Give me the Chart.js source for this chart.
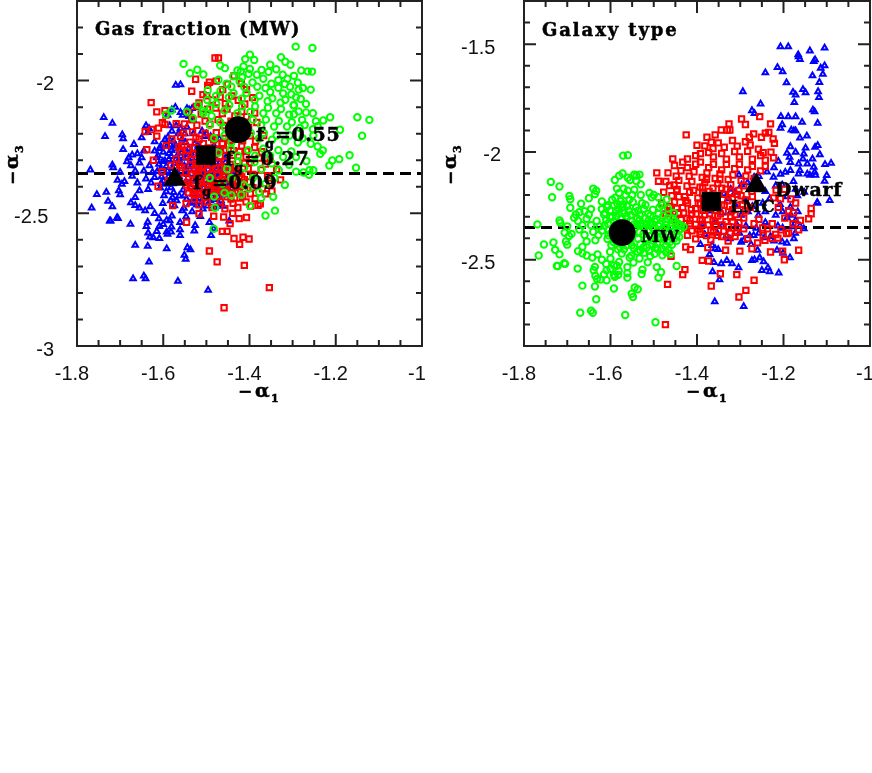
<!DOCTYPE html>
<html>
<head>
<meta charset="utf-8">
<style>
  html, body { margin: 0; background: #fff; }
  canvas { position: absolute; top: 0; }
  #gas { left: 0; }
  #tipo { left: 436px; }
</style>
<script src="https://cdn.jsdelivr.net/npm/chart.js@4"></script>
</head>
<body>
<canvas id="gas" width="436" height="410"></canvas>
<canvas id="tipo" width="436" height="410"></canvas>
<script>
// ====== DADOS ======
// f_g = 0.09 no painel esquerdo e MW no painel direito: mesma nuvem nos dois
const mwLow = [
[-1.571,-2.017],[-1.56,-2.015],[-1.58,-2.11],[-1.59,-2.13],[-1.572,-2.1],[-1.56,-2.12],[-1.545,-2.105],[-1.54,-2.11],[-1.533,-2.105],[-1.53,-2.15],[-1.54,-2.135],[-1.555,-2.13],
[-1.585,-2.17],[-1.57,-2.17],[-1.56,-2.18],[-1.545,-2.175],[-1.58,-2.19],[-1.565,-2.2],[-1.55,-2.2],[-1.53,-2.2],[-1.51,-2.19],[-1.5,-2.2],[-1.505,-2.21],[-1.49,-2.21],[-1.47,-2.22],
[-1.769,-2.336],[-1.738,-2.139],[-1.718,-2.16],[-1.735,-2.21],[-1.766,-2.48],[-1.754,-2.429],[-1.732,-2.42],[-1.728,-2.454],[-1.718,-2.475],[-1.722,-2.529],[-1.705,-2.519],
[-1.695,-2.204],[-1.693,-2.219],[-1.693,-2.259],[-1.718,-2.318],[-1.716,-2.328],[-1.7,-2.345],[-1.696,-2.39],[-1.706,-2.375],[-1.703,-2.415],[-1.7,-2.43],[-1.69,-2.38],
[-1.68,-2.29],[-1.684,-2.305],[-1.672,-2.28],[-1.668,-2.24],[-1.66,-2.275],[-1.655,-2.31],[-1.65,-2.29],[-1.645,-2.265],[-1.65,-2.215],[-1.64,-2.17],[-1.633,-2.18],[-1.636,-2.195],[-1.62,-2.23],
[-1.675,-2.32],[-1.665,-2.34],[-1.672,-2.36],[-1.66,-2.385],[-1.655,-2.415],[-1.665,-2.44],[-1.675,-2.46],[-1.665,-2.47],[-1.655,-2.48],[-1.642,-2.49],[-1.63,-2.475],
[-1.645,-2.34],[-1.632,-2.32],[-1.64,-2.37],[-1.628,-2.385],[-1.635,-2.41],[-1.62,-2.365],[-1.625,-2.345],[-1.615,-2.29],[-1.61,-2.315],[-1.62,-2.265],[-1.608,-2.255],[-1.6,-2.27],
[-1.67,-2.746],[-1.645,-2.736],[-1.641,-2.746],[-1.566,-2.756],[-1.496,-2.79],[-1.633,-2.683],[-1.551,-2.658],[-1.548,-2.673],[-1.592,-2.633],[-1.636,-2.624],[-1.665,-2.62],[-1.544,-2.629],[-1.537,-2.637],[-1.489,-2.583],
[-1.561,-2.583],[-1.561,-2.562],[-1.609,-2.595],[-1.623,-2.592],[-1.631,-2.589],[-1.635,-2.574],[-1.615,-2.568],[-1.592,-2.57],[-1.582,-2.57],[-1.59,-2.579],[-1.581,-2.551],[-1.493,-2.534],[-1.447,-2.529],
[-1.724,-2.529],[-1.707,-2.516],[-1.676,-2.541],[-1.636,-2.533],[-1.639,-2.549],[-1.609,-2.549],[-1.6,-2.542],[-1.592,-2.526],[-1.585,-2.528],[-1.561,-2.534],[-1.58,-2.51],[-1.61,-2.52],[-1.62,-2.5],[-1.6,-2.495],
[-1.59,-2.34],[-1.604,-2.362],[-1.593,-2.39],[-1.607,-2.404],[-1.598,-2.433],[-1.583,-2.452],[-1.601,-2.463],[-1.574,-2.471],[-1.556,-2.49],[-1.547,-2.513],[-1.552,-2.481],[-1.533,-2.494],[-1.522,-2.468],[-1.531,-2.457],
[-1.592,-2.248],[-1.601,-2.304],[-1.596,-2.222],[-1.584,-2.241],[-1.577,-2.228],[-1.581,-2.263],[-1.568,-2.284],[-1.587,-2.297],[-1.574,-2.312],[-1.593,-2.323],[-1.579,-2.331],[-1.566,-2.348],
[-1.562,-2.252],[-1.548,-2.233],[-1.541,-2.256],[-1.527,-2.238],[-1.523,-2.264],[-1.558,-2.273],[-1.544,-2.279],[-1.533,-2.291],[-1.513,-2.287],[-1.502,-2.268],[-1.487,-2.257],[-1.482,-2.246],
[-1.606,-2.333],[-1.582,-2.403],[-1.576,-2.421],[-1.578,-2.441],[-1.563,-2.434],[-1.546,-2.447],[-1.531,-2.428],[-1.516,-2.443],[-1.503,-2.427],[-1.491,-2.452],[-1.473,-2.438],[-1.458,-2.431],
[-1.519,-2.307],[-1.506,-2.334],[-1.493,-2.312],[-1.478,-2.296],[-1.472,-2.324],[-1.456,-2.308],[-1.443,-2.333],[-1.512,-2.362],[-1.497,-2.384],[-1.481,-2.358],[-1.466,-2.381],[-1.452,-2.368],[-1.438,-2.357],[-1.431,-2.347],
[-1.517,-2.398],[-1.501,-2.412],[-1.484,-2.397],[-1.469,-2.413],[-1.453,-2.402],[-1.441,-2.393],[-1.508,-2.483],[-1.498,-2.472],[-1.483,-2.558],[-1.48,-2.479],[-1.471,-2.466],[-1.461,-2.473],[-1.514,-2.512],[-1.526,-2.546],[-1.528,-2.566],
[-1.596,-2.302],[-1.564,-2.298],[-1.551,-2.322],[-1.538,-2.308],[-1.529,-2.334],[-1.521,-2.352],[-1.543,-2.353],[-1.599,-2.378],[-1.554,-2.412],[-1.536,-2.403],[-1.524,-2.379],
[-1.614,-2.342],[-1.587,-2.274],[-1.572,-2.257],[-1.553,-2.292],[-1.538,-2.336],[-1.512,-2.318],[-1.489,-2.343],[-1.474,-2.352],[-1.461,-2.344],[-1.447,-2.384],[-1.489,-2.288],[-1.467,-2.262],[-1.453,-2.283],[-1.476,-2.405],[-1.492,-2.425],
[-1.612,-2.283],[-1.606,-2.247],[-1.589,-2.212],[-1.571,-2.243],[-1.556,-2.221],[-1.536,-2.272],[-1.519,-2.246],[-1.508,-2.296],[-1.497,-2.322],[-1.486,-2.333],[-1.469,-2.309],[-1.451,-2.321],[-1.437,-2.342],[-1.581,-2.286],[-1.562,-2.306],[-1.547,-2.338],[-1.533,-2.318],[-1.518,-2.334],[-1.503,-2.352],[-1.487,-2.367],[-1.471,-2.339],[-1.459,-2.357],
[-1.605,-2.387],[-1.588,-2.362],[-1.577,-2.388],[-1.563,-2.362],[-1.548,-2.382],[-1.533,-2.371],[-1.518,-2.409],[-1.506,-2.392],[-1.491,-2.378],[-1.478,-2.391],[-1.462,-2.417],[-1.447,-2.412],[-1.593,-2.418],[-1.569,-2.452],[-1.551,-2.433],[-1.538,-2.462],[-1.524,-2.443],[-1.511,-2.458],[-1.496,-2.443],[-1.482,-2.448],[-1.466,-2.452]
];
const gasMid = [
[-1.48,-1.915],[-1.472,-1.915],[-1.525,-1.995],[-1.534,-2.04],[-1.628,-2.083],[-1.615,-2.118],[-1.596,-2.113],[-1.594,-2.13],[-1.627,-2.184],[-1.611,-2.179],[-1.602,-2.159],[-1.596,-2.165],[-1.642,-2.192],[-1.615,-2.209],[-1.638,-2.26],[-1.623,-2.3],
[-1.57,-2.162],[-1.58,-2.22],[-1.56,-2.21],[-1.593,-2.245],[-1.564,-2.25],[-1.56,-2.265],[-1.57,-2.295],[-1.582,-2.32],[-1.578,-2.471],[-1.546,-2.534],[-1.517,-2.501],[-1.483,-2.511],[-1.463,-2.568],[-1.452,-2.568],[-1.436,-2.595],[-1.423,-2.617],[-1.415,-2.59],[-1.401,-2.597],[-1.493,-2.642],[-1.475,-2.683],[-1.412,-2.696],[-1.354,-2.78],[-1.459,-2.856],[-1.424,-2.52],[-1.407,-2.516],[-1.38,-2.47],[-1.375,-2.464],[-1.46,-2.514],[-1.439,-2.5],[-1.445,-2.539],
[-1.508,-2.053],[-1.497,-2.018],[-1.493,-2.006],[-1.477,-2.002],[-1.462,-2.034],[-1.451,-2.013],[-1.436,-1.982],[-1.419,-2.011],[-1.407,-2.034],[-1.517,-2.084],[-1.499,-2.057],[-1.486,-2.073],[-1.468,-2.062],[-1.456,-2.087],[-1.441,-2.058],[-1.426,-2.074],[-1.411,-2.088],[-1.393,-2.064],
[-1.541,-2.121],[-1.523,-2.097],[-1.512,-2.126],[-1.497,-2.108],[-1.478,-2.103],[-1.463,-2.124],[-1.452,-2.107],[-1.434,-2.133],[-1.418,-2.117],[-1.407,-2.136],[-1.388,-2.122],[-1.551,-2.163],[-1.534,-2.148],[-1.522,-2.168],[-1.503,-2.152],[-1.492,-2.164],[-1.473,-2.147],[-1.461,-2.169],[-1.443,-2.153],[-1.432,-2.174],[-1.413,-2.161],[-1.402,-2.176],[-1.383,-2.158],
[-1.553,-2.197],[-1.532,-2.193],[-1.524,-2.213],[-1.503,-2.198],[-1.488,-2.214],[-1.477,-2.196],[-1.458,-2.218],[-1.447,-2.203],[-1.428,-2.207],[-1.416,-2.226],[-1.398,-2.208],[-1.386,-2.228],[-1.367,-2.207],[-1.557,-2.243],[-1.538,-2.232],[-1.527,-2.253],[-1.507,-2.237],[-1.496,-2.254],[-1.476,-2.238],[-1.467,-2.258],[-1.448,-2.243],[-1.437,-2.264],[-1.418,-2.247],[-1.407,-2.266],[-1.388,-2.252],[-1.372,-2.268],
[-1.547,-2.284],[-1.528,-2.277],[-1.516,-2.294],[-1.468,-2.286],[-1.457,-2.304],[-1.438,-2.281],[-1.427,-2.304],[-1.408,-2.287],[-1.397,-2.309],[-1.378,-2.292],[-1.363,-2.314],[-1.352,-2.297],[-1.337,-2.334],[-1.603,-2.343],[-1.557,-2.328],[-1.537,-2.317],[-1.526,-2.337],[-1.508,-2.322],[-1.497,-2.336],[-1.478,-2.331],[-1.467,-2.327],[-1.448,-2.344],[-1.433,-2.326],[-1.422,-2.348],[-1.403,-2.332],[-1.392,-2.354],[-1.373,-2.337],[-1.358,-2.358],[-1.328,-2.374],
[-1.612,-2.398],[-1.588,-2.377],[-1.553,-2.367],[-1.542,-2.384],[-1.523,-2.362],[-1.512,-2.384],[-1.493,-2.367],[-1.482,-2.389],[-1.463,-2.372],[-1.452,-2.393],[-1.433,-2.377],[-1.422,-2.398],[-1.403,-2.382],[-1.392,-2.403],[-1.37,-2.408],[-1.353,-2.387],[-1.542,-2.423],[-1.523,-2.407],[-1.512,-2.428],[-1.493,-2.412],[-1.482,-2.433],[-1.463,-2.417],[-1.452,-2.438],[-1.433,-2.422],[-1.422,-2.443],[-1.398,-2.427],[-1.387,-2.444],[-1.363,-2.427],[-1.348,-2.417],
[-1.547,-2.463],[-1.528,-2.447],[-1.517,-2.468],[-1.498,-2.457],[-1.487,-2.478],[-1.468,-2.457],[-1.457,-2.483],[-1.438,-2.462],[-1.427,-2.478],[-1.408,-2.457],[-1.397,-2.473],
[-1.562,-2.318],[-1.533,-2.352],[-1.518,-2.274],[-1.509,-2.348],[-1.486,-2.298],[-1.474,-2.356],[-1.459,-2.263],[-1.444,-2.316],[-1.531,-2.418],[-1.504,-2.441],[-1.478,-2.406],[-1.546,-2.394],[-1.441,-2.408],[-1.516,-2.322],[-1.489,-2.396],
[-1.543,-2.262],[-1.517,-2.221],[-1.503,-2.274],[-1.483,-2.223],[-1.463,-2.236],[-1.443,-2.226],[-1.423,-2.267],[-1.412,-2.312],[-1.536,-2.298],[-1.521,-2.313],[-1.502,-2.307],[-1.487,-2.318],[-1.473,-2.309],[-1.458,-2.337],[-1.437,-2.353],[-1.418,-2.363],[-1.548,-2.347],[-1.528,-2.373],[-1.518,-2.342],[-1.503,-2.378],[-1.488,-2.352],[-1.472,-2.378],[-1.457,-2.362],[-1.443,-2.369],[-1.427,-2.383],[-1.412,-2.373],[-1.537,-2.404],[-1.518,-2.392],[-1.497,-2.399],[-1.473,-2.397],[-1.458,-2.409],[-1.446,-2.423],[-1.427,-2.416],[-1.411,-2.409],[-1.527,-2.432],[-1.506,-2.421],[-1.473,-2.436],[-1.443,-2.446],[-1.416,-2.437]
];
const gasHigh = [
[-1.293,-1.872],[-1.254,-1.877],[-1.399,-1.902],[-1.41,-1.919],[-1.389,-1.922],[-1.327,-1.912],[-1.317,-1.929],[-1.305,-1.94],[-1.352,-1.94],[-1.414,-1.947],[-1.399,-1.956],[-1.372,-1.96],[-1.42,-1.965],[-1.28,-1.962],[-1.265,-1.965],[-1.255,-1.966],
[-1.15,-2.138],[-1.122,-2.148],[-1.139,-2.208],[-1.168,-2.281],[-1.153,-2.328],[-1.192,-2.296],[-1.208,-2.301],[-1.215,-2.32],[-1.236,-2.276],[-1.23,-2.263],[-1.242,-2.248],[-1.19,-2.185],[-1.213,-2.138],[-1.229,-2.15],[-1.246,-2.153],[-1.253,-2.123],[-1.269,-2.12],[-1.286,-2.116],
[-1.258,-2.034],[-1.286,-2.034],[-1.281,-2.069],[-1.269,-2.088],[-1.297,-2.093],[-1.261,-2.338],[-1.252,-2.338],[-1.275,-2.346],[-1.262,-2.355],[-1.483,-2.558],[-1.48,-2.479],[-1.399,-2.472],[-1.363,-2.508],[-1.341,-2.49],[-1.345,-2.438],[-1.378,-2.42],[-1.442,-2.432],[-1.419,-2.43],
[-1.553,-1.937],[-1.538,-1.972],[-1.521,-1.959],[-1.507,-1.977],[-1.594,-2.128],[-1.581,-2.113],[-1.545,-2.117],[-1.531,-2.142],[-1.519,-2.092],[-1.508,-2.113],[-1.498,-2.073],[-1.491,-2.103],
[-1.468,-1.943],[-1.457,-1.953],[-1.438,-1.984],[-1.428,-1.962],[-1.417,-1.987],[-1.402,-1.974],[-1.383,-1.978],[-1.368,-1.993],[-1.356,-1.967],[-1.338,-1.957],[-1.323,-1.978],[-1.312,-1.993],[-1.297,-1.982],[-1.333,-1.998],[-1.318,-2.013],[-1.306,-2.023],[-1.288,-2.008],[-1.276,-2.028],[-1.349,-2.012],
[-1.472,-1.997],[-1.453,-2.012],[-1.442,-2.023],[-1.423,-2.003],[-1.412,-2.024],[-1.393,-2.007],[-1.382,-2.023],[-1.363,-2.028],[-1.352,-2.043],[-1.333,-2.027],[-1.322,-2.048],[-1.303,-2.052],[-1.292,-2.063],
[-1.497,-2.037],[-1.478,-2.058],[-1.467,-2.038],[-1.448,-2.063],[-1.437,-2.047],[-1.418,-2.068],[-1.407,-2.047],[-1.388,-2.073],[-1.377,-2.057],[-1.358,-2.078],[-1.347,-2.067],[-1.328,-2.083],[-1.317,-2.072],[-1.298,-2.093],
[-1.507,-2.123],[-1.488,-2.133],[-1.477,-2.087],[-1.458,-2.113],[-1.447,-2.092],[-1.428,-2.123],[-1.417,-2.097],[-1.398,-2.118],[-1.387,-2.097],[-1.368,-2.123],[-1.357,-2.102],[-1.338,-2.123],[-1.327,-2.107],[-1.308,-2.128],[-1.297,-2.127],[-1.278,-2.148],
[-1.492,-2.167],[-1.468,-2.157],[-1.457,-2.178],[-1.438,-2.157],[-1.392,-2.147],[-1.373,-2.168],[-1.362,-2.147],[-1.343,-2.173],[-1.332,-2.152],[-1.313,-2.173],[-1.302,-2.157],[-1.283,-2.178],[-1.272,-2.167],[-1.253,-2.183],[-1.242,-2.172],
[-1.482,-2.217],[-1.458,-2.207],[-1.442,-2.233],[-1.418,-2.217],[-1.397,-2.197],[-1.378,-2.218],[-1.367,-2.197],[-1.348,-2.223],[-1.337,-2.207],[-1.318,-2.228],[-1.307,-2.207],[-1.288,-2.233],[-1.277,-2.217],[-1.258,-2.238],[-1.252,-2.207],
[-1.472,-2.272],[-1.443,-2.257],[-1.427,-2.283],[-1.403,-2.262],[-1.387,-2.283],[-1.368,-2.257],[-1.352,-2.283],[-1.333,-2.262],[-1.322,-2.288],[-1.303,-2.267],[-1.292,-2.288],[-1.268,-2.303],[-1.452,-2.333],[-1.428,-2.307],[-1.412,-2.328],[-1.388,-2.307],[-1.372,-2.333],[-1.348,-2.312],[-1.332,-2.338],[-1.308,-2.317],[-1.292,-2.343],
[-1.492,-2.367],[-1.463,-2.388],[-1.442,-2.367],[-1.413,-2.393],[-1.392,-2.367],[-1.363,-2.388],[-1.342,-2.367],[-1.318,-2.393],[-1.482,-2.437],[-1.458,-2.423],[-1.402,-2.407],[-1.373,-2.443]
];
const lmcPts = [
[-1.473,-2.801],[-1.468,-2.614],[-1.433,-2.569],[-1.428,-2.546],[-1.367,-2.622],[-1.303,-2.673],[-1.287,-2.642],[-1.268,-2.595],[-1.308,-2.569],[-1.346,-2.565],[-1.388,-2.503],[-1.373,-2.506],[-1.46,-2.484],[-1.415,-2.453],[-1.426,-2.441],
[-1.334,-2.456],[-1.301,-2.46],[-1.273,-2.449],[-1.23,-2.464],[-1.202,-2.46],[-1.198,-2.5],[-1.165,-2.456],[-1.375,-2.444],[-1.283,-2.402],[-1.26,-2.422],[-1.243,-2.41],[-1.226,-2.402],[-1.213,-2.4],[-1.193,-2.379],[-1.188,-2.376],[-1.165,-2.361],[-1.206,-2.361],[-1.226,-2.333],[-1.161,-2.318],[-1.142,-2.31],[-1.136,-2.287],[-1.136,-2.262],
[-1.297,-1.847],[-1.288,-1.873],[-1.326,-1.87],[-1.255,-1.836],[-1.23,-1.87],[-1.344,-1.898],[-1.33,-1.898],[-1.324,-1.898],[-1.425,-1.921],[-1.358,-1.921],[-1.377,-1.932],[-1.367,-1.955],[-1.4,-1.969],[-1.269,-1.916],[-1.279,-1.932],[-1.242,-1.913],[-1.234,-1.909],[-1.224,-1.94],[-1.221,-1.96],[-1.229,-2.001],[-1.251,-1.932],
[-1.456,-2.032],[-1.493,-2.097],[-1.489,-2.136],[-1.463,-2.156],[-1.446,-2.174],[-1.382,-1.972],[-1.363,-1.984],[-1.351,-1.958],[-1.337,-1.978],[-1.318,-1.947],[-1.307,-1.973],[-1.288,-1.953],[-1.277,-1.968],[-1.258,-1.987],[-1.247,-2.003],
[-1.422,-2.033],[-1.403,-2.017],[-1.392,-2.008],[-1.373,-2.003],[-1.362,-2.023],[-1.343,-2.007],[-1.332,-2.034],[-1.313,-1.998],[-1.302,-2.023],[-1.283,-1.997],[-1.272,-2.034],[-1.253,-2.017],[-1.242,-2.038],[-1.223,-2.027],
[-1.452,-2.063],[-1.433,-2.047],[-1.422,-2.073],[-1.403,-2.057],[-1.392,-2.047],[-1.373,-2.073],[-1.362,-2.057],[-1.343,-2.083],[-1.332,-2.057],[-1.313,-2.078],[-1.302,-2.057],[-1.283,-2.083],[-1.272,-2.067],[-1.253,-2.088],[-1.242,-2.067],
[-1.467,-2.097],[-1.448,-2.113],[-1.437,-2.087],[-1.418,-2.113],[-1.407,-2.092],[-1.388,-2.118],[-1.377,-2.097],[-1.358,-2.123],[-1.347,-2.102],[-1.328,-2.128],[-1.317,-2.107],[-1.298,-2.133],[-1.287,-2.112],[-1.268,-2.123],
[-1.472,-2.137],[-1.453,-2.153],[-1.442,-2.132],[-1.423,-2.158],[-1.412,-2.137],[-1.393,-2.163],[-1.382,-2.142],[-1.363,-2.168],[-1.352,-2.147],[-1.333,-2.173],[-1.322,-2.152],[-1.303,-2.178],[-1.292,-2.157],[-1.273,-2.183],[-1.217,-2.177],[-1.198,-2.173],
[-1.477,-2.187],[-1.458,-2.203],[-1.447,-2.182],[-1.428,-2.208],[-1.417,-2.187],[-1.398,-2.213],[-1.387,-2.192],[-1.368,-2.213],[-1.337,-2.197],[-1.318,-2.218],[-1.307,-2.197],[-1.288,-2.223],[-1.272,-2.207],[-1.223,-2.213],[-1.207,-2.217],[-1.183,-2.218],[-1.172,-2.237],
[-1.482,-2.237],[-1.463,-2.253],[-1.452,-2.232],[-1.433,-2.258],[-1.422,-2.237],[-1.403,-2.263],[-1.392,-2.242],[-1.337,-2.247],[-1.318,-2.268],[-1.307,-2.247],[-1.288,-2.273],[-1.277,-2.257],[-1.212,-2.257],[-1.188,-2.273],[-1.177,-2.282],
[-1.472,-2.287],[-1.453,-2.303],[-1.442,-2.282],[-1.423,-2.308],[-1.412,-2.287],[-1.393,-2.313],[-1.382,-2.292],[-1.363,-2.318],[-1.352,-2.297],[-1.333,-2.323],[-1.322,-2.302],[-1.303,-2.328],[-1.292,-2.307],[-1.268,-2.333],[-1.257,-2.312],[-1.197,-2.307],[-1.178,-2.333],
[-1.447,-2.337],[-1.428,-2.353],[-1.417,-2.332],[-1.398,-2.358],[-1.387,-2.337],[-1.368,-2.363],[-1.357,-2.342],[-1.338,-2.368],[-1.327,-2.347],[-1.308,-2.373],[-1.292,-2.357],[-1.248,-2.353],[-1.237,-2.357],[-1.218,-2.383],
[-1.422,-2.387],[-1.403,-2.403],[-1.392,-2.382],[-1.368,-2.408],[-1.352,-2.387],[-1.328,-2.413],[-1.312,-2.392],[-1.247,-2.387],
[-1.442,-2.208],[-1.426,-2.226],[-1.408,-2.178],[-1.397,-2.238],[-1.381,-2.224],[-1.372,-2.252],[-1.356,-2.271],[-1.343,-2.246],[-1.328,-2.227],[-1.463,-2.273],[-1.447,-2.262],[-1.431,-2.284],[-1.413,-2.268],[-1.402,-2.288],[-1.386,-2.271],[-1.371,-2.286],[-1.346,-2.287],[-1.327,-2.278],[-1.312,-2.291],[-1.296,-2.243],
[-1.437,-2.314],[-1.416,-2.318],[-1.403,-2.336],[-1.388,-2.318],[-1.374,-2.338],[-1.358,-2.322],[-1.342,-2.338],[-1.318,-2.323],[-1.305,-2.352],[-1.412,-2.366],[-1.393,-2.371],[-1.378,-2.388],[-1.362,-2.372],[-1.343,-2.392],[-1.323,-2.378],[-1.387,-2.163],[-1.372,-2.183],[-1.347,-2.128],[-1.322,-2.187],[-1.298,-2.203],[-1.343,-2.168],[-1.378,-2.127]
];
const dwarfPts = [
[-1.207,-1.512],[-1.189,-1.512],[-1.105,-1.518],[-1.139,-1.531],[-1.166,-1.549],[-1.165,-1.558],[-1.162,-1.571],[-1.13,-1.58],[-1.127,-1.572],[-1.105,-1.6],[-1.114,-1.611],[-1.109,-1.639],[-1.133,-1.646],[-1.214,-1.608],[-1.202,-1.628],[-1.242,-1.632],[-1.193,-1.679],[-1.117,-1.677],[-1.294,-1.72],[-1.155,-1.71],[-1.149,-1.725],[-1.178,-1.723],[-1.172,-1.736],[-1.12,-1.72],[-1.118,-1.747],[-1.175,-1.77],[-1.253,-1.777],[-1.273,-1.808],[-1.267,-1.821],[-1.132,-1.805],[-1.128,-1.813],[-1.206,-1.835],[-1.189,-1.836],[-1.172,-1.836],[-1.157,-1.862],[-1.121,-1.867],[-1.203,-1.873],[-1.207,-1.89],[-1.182,-1.898],[-1.176,-1.901],[-1.172,-1.901],[-1.162,-1.935],[-1.146,-1.926],[-1.184,-1.975],[-1.149,-1.981],[-1.172,-2.001],[-1.127,-1.978],[-1.121,-1.97],
[-1.192,-2.006],[-1.153,-2.009],[-1.116,-2.012],[-1.186,-2.024],[-1.184,-2.048],[-1.133,-2.032],[-1.155,-2.032],[-1.104,-2.058],[-1.09,-2.052],[-1.1,-2.109],[-1.105,-2.136],[-1.165,-2.055],[-1.162,-2.086],[-1.145,-2.055],[-1.13,-2.07],[-1.128,-2.094],[-1.145,-2.102],[-1.139,-2.108],[-1.126,-2.108],[-1.165,-2.102],[-1.184,-2.086],[-1.196,-2.094],[-1.122,-2.234],[-1.093,-2.225],
[-1.359,-2.694],[-1.292,-2.716],[-1.364,-2.555],[-1.348,-2.592],[-1.304,-2.537],[-1.344,-2.518],[-1.331,-2.503],[-1.319,-2.518],[-1.361,-2.512],[-1.25,-2.549],[-1.236,-2.537],[-1.232,-2.555],[-1.211,-2.561],[-1.273,-2.503],[-1.267,-2.5],[-1.255,-2.49],[-1.246,-2.509],[-1.185,-2.49],[-1.215,-2.456],[-1.201,-2.469],[-1.275,-2.429],[-1.26,-2.456],[-1.298,-2.418],[-1.292,-2.41],[-1.371,-2.475],[-1.365,-2.433],[-1.358,-2.449],[-1.351,-2.452],[-1.392,-2.429],[-1.324,-2.402],[-1.244,-2.398],[-1.23,-2.392],[-1.269,-2.387],[-1.176,-2.402],[-1.153,-2.356],[-1.172,-2.318],[-1.192,-2.305],[-1.184,-2.256],[-1.122,-2.237],
[-1.212,-2.043],[-1.222,-2.073],[-1.207,-2.103],[-1.223,-2.117],[-1.238,-2.093],[-1.257,-2.113],[-1.268,-2.117],[-1.303,-2.107],[-1.283,-2.143],[-1.297,-2.153],[-1.322,-2.173],[-1.338,-2.193],[-1.312,-2.187],[-1.278,-2.173],[-1.242,-2.183],[-1.218,-2.157],[-1.203,-2.153],[-1.177,-2.137],[-1.172,-2.173],
[-1.352,-2.233],[-1.328,-2.217],[-1.312,-2.243],[-1.288,-2.227],[-1.272,-2.253],[-1.248,-2.237],[-1.232,-2.217],[-1.208,-2.243],[-1.192,-2.207],[-1.168,-2.203],[-1.152,-2.187],[-1.372,-2.273],[-1.343,-2.283],[-1.322,-2.277],[-1.298,-2.293],[-1.282,-2.277],[-1.258,-2.293],[-1.242,-2.277],[-1.218,-2.293],[-1.202,-2.277],[-1.183,-2.293],[-1.167,-2.277],
[-1.387,-2.333],[-1.358,-2.327],[-1.342,-2.343],[-1.308,-2.337],[-1.287,-2.343],[-1.263,-2.353],[-1.242,-2.327],[-1.213,-2.343],[-1.202,-2.353],[-1.178,-2.347],[-1.162,-2.343],[-1.382,-2.383],[-1.353,-2.377],[-1.332,-2.388],[-1.302,-2.377],[-1.278,-2.388],[-1.257,-2.377],[-1.222,-2.413],[-1.203,-2.417],[-1.192,-2.423],[-1.173,-2.377]
];
const fgMarks = { alto: [[-1.426, -2.185]], medio: [[-1.501, -2.281]], baixo: [[-1.573, -2.372]] };
const typeMarks = { mw: [[-1.573, -2.374]], lmc: [[-1.367, -2.23]], dwarf: [[-1.263, -2.156]] };
const slopeRef = -2.35;
const xBounds = [-1.8, -1];

const VERDE = '#00ff00', VERMELHO = '#ff0000', AZUL = '#0000ff', PRETO = '#000';
const SERIF = "'DejaVu Serif'";

function pts(lista) {
  return lista.map(p => ({ x: p[0], y: p[1] }));
}

function nuvem(lista, estilo, cor, raio, ordem) {
  return { type: 'scatter', data: pts(lista), pointStyle: estilo, pointRadius: raio, pointBorderWidth: 2,
    pointBorderColor: cor, pointBackgroundColor: 'transparent', showLine: false, order: ordem };
}

function marca(lista, estilo, raio) {
  return { type: 'scatter', data: pts(lista), pointStyle: estilo, pointRadius: raio, pointBorderWidth: 0,
    pointBackgroundColor: PRETO, showLine: false, order: 0 };
}

function tracejado(yv) {
  return { type: 'line', data: xBounds.map(x => ({ x, y: yv })), borderColor: PRETO, borderWidth: 3,
    borderDash: [11, 6], pointRadius: 0, order: 10 };
}

// Marcas para dentro nos quatro lados, como no original
const moldura = {
  id: 'moldura',
  afterDatasetsDraw(chart) {
    const { ctx, chartArea: a, scales } = chart;
    ctx.save();
    ctx.strokeStyle = '#222';
    ctx.lineWidth = 2;
    ctx.beginPath();
    scales.x.ticks.forEach(t => {
      const px = scales.x.getPixelForValue(t.value);
      const n = t.label !== '' ? 12 : 6;
      ctx.moveTo(px, a.bottom); ctx.lineTo(px, a.bottom - n);
      ctx.moveTo(px, a.top); ctx.lineTo(px, a.top + n);
    });
    scales.y.ticks.forEach(t => {
      const py = scales.y.getPixelForValue(t.value);
      const n = t.label !== '' ? 12 : 6;
      ctx.moveTo(a.left, py); ctx.lineTo(a.left + n, py);
      ctx.moveTo(a.right, py); ctx.lineTo(a.right - n, py);
    });
    ctx.rect(a.left, a.top, a.right - a.left, a.bottom - a.top);
    ctx.stroke();
    ctx.restore();
  }
};

function texto(ctx, str, x, y, tam, esp) {
  ctx.font = `bold ${tam}px ${SERIF}`;
  ctx.letterSpacing = (esp || 0) + 'px';
  ctx.lineWidth = 0.5;
  ctx.strokeStyle = PRETO;
  ctx.fillText(str, x, y);
  ctx.strokeText(str, x, y);
}

const anotacoes = {
  id: 'anotacoes',
  afterDraw(chart, args, opts) {
    const ctx = chart.ctx;
    ctx.save();
    ctx.fillStyle = PRETO;
    ctx.textBaseline = 'alphabetic';
    (opts.rotulos || []).forEach(r => texto(ctx, r.t, r.x, r.y, r.s, r.e));
    // f com g subscrito
    (opts.fracoes || []).forEach(r => {
      texto(ctx, 'f', r.x, r.y, 19);
      texto(ctx, 'g', r.x + 9, r.y + 7, 13);
      texto(ctx, '=' + r.v, r.x + 19, r.y, 19, 0.6);
    });
    // titulo do eixo x
    let x0 = opts.eixoX;
    texto(ctx, '\u2212', x0, 397, 17);
    texto(ctx, '\u03b1', x0 + 17, 397, 19);
    texto(ctx, '1', x0 + 33, 402, 11);
    // titulo do eixo y
    ctx.translate(opts.eixoY, 185);
    ctx.rotate(-Math.PI / 2);
    texto(ctx, '\u2212', 0, 0, 17);
    texto(ctx, '\u03b1', 16, 0, 19);
    texto(ctx, '3', 32, 5, 11);
    ctx.restore();
  }
};

// Sem folga automatica para os rotulos das pontas
function semFolga(s) {
  s.paddingLeft = s.paddingRight = s.paddingTop = s.paddingBottom = 0;
}

function criar(id, datasets, yMin, yMax, esqEixo, dirPad, anot) {
  return new Chart(document.getElementById(id), {
    data: { datasets },
    plugins: [moldura, anotacoes],
    options: {
      responsive: false,
      animation: false,
      devicePixelRatio: 1,
      layout: { autoPadding: false, padding: { top: 1, right: dirPad, left: 0, bottom: 10 } },
      plugins: { legend: { display: false }, tooltip: { enabled: false }, anotacoes: anot },
      scales: {
        x: {
          type: 'linear', min: xBounds[0], max: xBounds[1],
          grid: { display: false }, border: { display: false },
          afterFit: s => { s.height = 54; semFolga(s); },
          ticks: {
            stepSize: 0.05, autoSkip: false, maxRotation: 0, padding: 8, labelOffset: -5,
            color: '#111', font: { family: "'Liberation Sans'", size: 20 },
            callback: v => Math.abs(v * 5 - Math.round(v * 5)) < 1e-6 ? String(+v.toFixed(1)) : ''
          }
        },
        y: {
          type: 'linear', min: yMin, max: yMax,
          grid: { display: false }, border: { display: false },
          afterFit: s => { s.width = esqEixo; semFolga(s); },
          ticks: {
            stepSize: 0.1, autoSkip: false, padding: 15, labelOffset: 4,
            color: '#111', font: { family: "'Liberation Sans'", size: 20 },
            callback: v => {
              if (Math.abs(v * 2 - Math.round(v * 2)) > 1e-6) return '';
              return Number.isInteger(+v.toFixed(1)) ? String(+v.toFixed(1)) : v.toFixed(1) + ' ';
            }
          }
        }
      }
    }
  });
}

// ====== GRAFICOS ======
criar('gas', [
  marca(fgMarks.alto, 'circle', 13.4),
  marca(fgMarks.medio, 'rect', 13.8),
  marca(fgMarks.baixo, 'triangle', 13),
  nuvem(gasHigh, 'circle', VERDE, 3.2, 1),
  nuvem(gasMid, 'rect', VERMELHO, 3.8, 2),
  nuvem(mwLow, 'triangle', AZUL, 3.2, 3),
  tracejado(slopeRef)
], -3, -1.7, 77, 14, {
  rotulos: [{ t: 'Gas fraction (MW)', x: 95, y: 35, s: 18, e: 1.1 }],
  fracoes: [{ v: '0.55', x: 256, y: 141 }, { v: '0.27', x: 225, y: 165 }, { v: '0.09', x: 193, y: 189 }],
  eixoX: 238, eixoY: 18
});

criar('tipo', [
  marca(typeMarks.mw, 'circle', 13.4),
  marca(typeMarks.lmc, 'rect', 13.8),
  marca(typeMarks.dwarf, 'triangle', 13.3),
  nuvem(mwLow, 'circle', VERDE, 3.2, 1),
  nuvem(lmcPts, 'rect', VERMELHO, 3.8, 2),
  nuvem(dwarfPts, 'triangle', AZUL, 3.2, 3),
  tracejado(slopeRef)
], -2.9, -1.3, 88, 2, {
  rotulos: [
    { t: 'Galaxy type', x: 106, y: 36, s: 18, e: 1.9 },
    { t: 'MW', x: 205, y: 242, s: 17, e: 0 },
    { t: 'LMC', x: 294, y: 212, s: 17, e: 0.2 },
    { t: 'Dwarf', x: 339, y: 196, s: 19, e: 0.8 }
  ],
  eixoX: 250, eixoY: 20
});
</script>
</body>
</html>
